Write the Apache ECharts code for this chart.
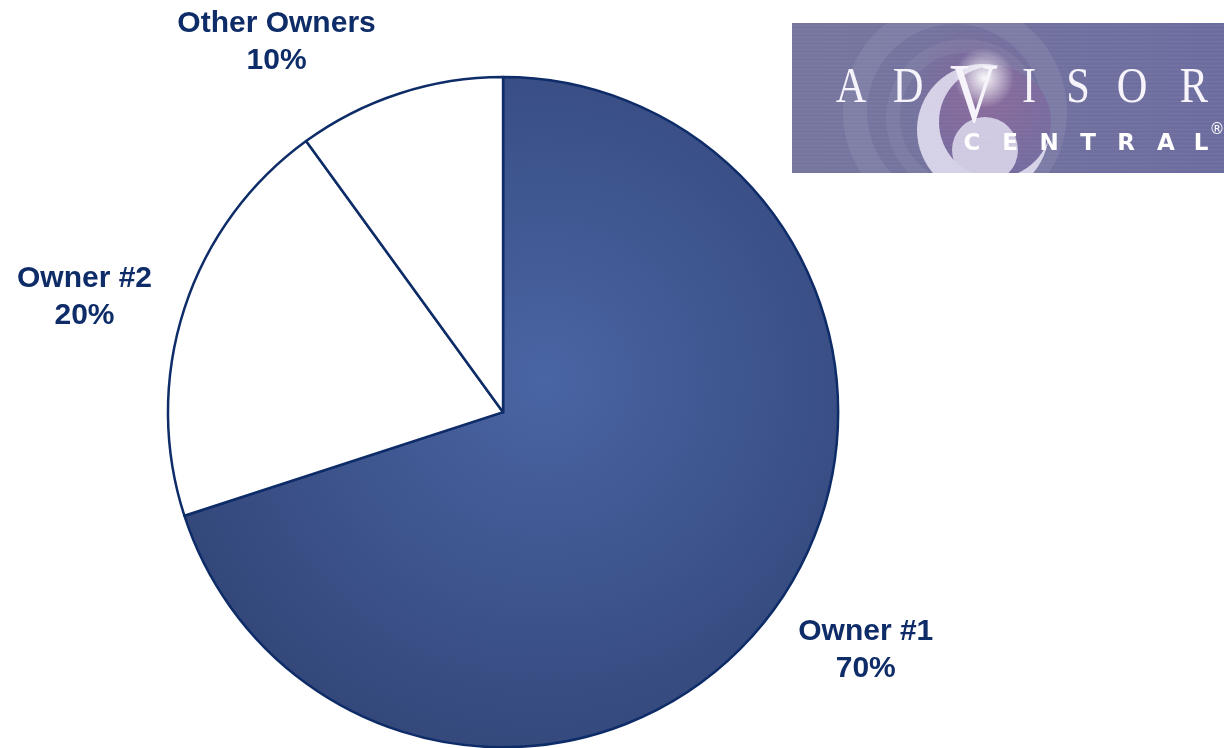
<!DOCTYPE html>
<html>
<head>
<meta charset="utf-8">
<script src="https://cdn.jsdelivr.net/npm/echarts@6/dist/echarts.min.js"></script>
<style>
  html, body { margin: 0; padding: 0; background: #ffffff; }
  #main { width: 1224px; height: 748px; }
</style>
</head>
<body>
<div id="main"></div>
<script>
// chart data
var owners = ['Owner #1', 'Owner #2', 'Other Owners'];
var shares = [70, 20, 10];

// logo lettering
var logoWord = ['A', 'D', 'V', 'I', 'S', 'O', 'R'];
var logoSub = ['C', 'E', 'N', 'T', 'R', 'A', 'L'];

var navy = '#0e2c68';
var pieCenter = ['41.1%', '55.1%'];
var pieRadius = 0.896; // share of min(w, h) / 2

var chart = echarts.init(document.getElementById('main'));

var sliceFills = [
    {
        type: 'radial', x: 0.55, y: 0.45, r: 0.6,
        colorStops: [
            { offset: 0, color: '#4a65a4' },
            { offset: 1, color: '#33477a' }
        ]
    },
    '#ffffff',
    '#ffffff'
];

var pieData = owners.map(function (name, i) {
    return { name: name, value: shares[i], itemStyle: { color: sliceFills[i] } };
});

// place labels the way the original does: on a ring outside the pie,
// slid along the ring when they would leave the top of the canvas
function placeLabel(params) {
    var pts = params.labelLinePoints;
    if (!pts) return {};
    var w = chart.getWidth(), h = chart.getHeight();
    var cx = w * parseFloat(pieCenter[0]) / 100;
    var cy = h * parseFloat(pieCenter[1]) / 100;
    var r = pieRadius * Math.min(w, h) / 2;
    var a = Math.atan2(pts[0][1] - cy, pts[0][0] - cx) - 2.7 * Math.PI / 180;
    var R = r * 1.295;
    var x = cx + Math.cos(a) * R;
    var y = cy + Math.sin(a) * R;
    var minY = params.labelRect.height / 2 + 5;
    if (y < minY) {
        y = minY;
        x = cx + (Math.cos(a) < 0 ? -1 : 1) * Math.sqrt(R * R - (cy - y) * (cy - y));
    }
    return { x: x, y: y, align: 'center', verticalAlign: 'middle' };
}

// logo graphic (top right)
var logo = [];
var lx = 792, ly = 23, lw = 432, lh = 150;
var cutColor = '#766c9f';
logo.push({
    type: 'rect', shape: { x: lx, y: ly, width: lw, height: lh },
    style: {
        fill: { type: 'linear', x: 0, y: 0, x2: 1, y2: 0,
            colorStops: [{ offset: 0, color: '#77769f' }, { offset: 1, color: '#6c6d9f' }] }
    }
});
logo.push({
    type: 'circle', shape: { cx: 975, cy: 88, r: 64 },
    style: { fill: { type: 'radial', x: 0.5, y: 0.5, r: 0.5,
        colorStops: [{ offset: 0, color: 'rgba(140,90,150,0.6)' }, { offset: 1, color: 'rgba(140,90,150,0)' }] } }
});
logo.push({
    type: 'circle', shape: { cx: 955, cy: 112, r: 100 },
    style: { fill: 'none', stroke: 'rgba(255,255,255,0.08)', lineWidth: 24 }
});
logo.push({
    type: 'circle', shape: { cx: 965, cy: 118, r: 72 },
    style: { fill: 'none', stroke: 'rgba(255,255,255,0.06)', lineWidth: 14 }
});
logo.push({
    type: 'circle', shape: { cx: 983, cy: 130, r: 66 },
    style: { fill: 'rgba(224,220,238,0.9)' }
});
logo.push({
    type: 'circle', shape: { cx: 995, cy: 122, r: 56 },
    style: { fill: { type: 'radial', x: 0.4, y: 0.3, r: 0.7,
        colorStops: [{ offset: 0, color: '#8a6b9c' }, { offset: 1, color: cutColor }] } }
});
logo.push({
    type: 'circle', shape: { cx: 985, cy: 150, r: 33 },
    style: { fill: 'rgba(212,208,230,0.95)' }
});
for (var s = 0; s < 37; s++) {
    logo.push({
        type: 'rect', shape: { x: lx, y: ly + 2 + s * 4, width: lw, height: 1 },
        style: { fill: 'rgba(255,255,255,0.05)' }
    });
}
logo.push({
    type: 'circle', shape: { cx: 984, cy: 78, r: 30 },
    style: { fill: { type: 'radial', x: 0.5, y: 0.5, r: 0.5,
        colorStops: [{ offset: 0, color: 'rgba(255,255,255,0.95)' }, { offset: 1, color: 'rgba(255,255,255,0)' }] } }
});
var wordX = [851, 908, 974, 1029, 1078, 1132, 1194];
logoWord.forEach(function (ch, i) {
    var big = ch === 'V';
    logo.push({
        type: 'text', x: wordX[i], y: big ? 100 : 89,
        scaleX: big ? 0.78 : 0.85,
        style: { text: ch, fill: '#f6f4fa',
            font: (big ? 85 : 50) + 'px "Liberation Serif", serif',
            textAlign: 'center', textVerticalAlign: 'middle' }
    });
});
var subX = [972, 1010, 1049, 1088, 1126, 1166, 1201];
logoSub.forEach(function (ch, i) {
    logo.push({
        type: 'text', x: subX[i], y: 144,
        style: { text: ch, fill: '#ffffff', font: 'bold 23px "DejaVu Sans", sans-serif',
            textAlign: 'center', textVerticalAlign: 'middle' }
    });
});
logo.push({
    type: 'text', x: 1217, y: 130,
    style: { text: '\u00AE', fill: '#ffffff', font: '15px "DejaVu Sans", sans-serif',
        textAlign: 'center', textVerticalAlign: 'middle' }
});
// trim the decoration to the logo box
logo.push({ type: 'rect', shape: { x: lx - 40, y: 0, width: lw + 40, height: ly }, style: { fill: '#ffffff' } });
logo.push({ type: 'rect', shape: { x: lx, y: ly + lh, width: lw, height: 40 }, style: { fill: '#ffffff' } });

chart.setOption({
    backgroundColor: '#ffffff',
    animation: false,
    graphic: logo,
    series: [{
        type: 'pie',
        center: pieCenter,
        radius: (pieRadius * 100) + '%',
        startAngle: 90,
        clockwise: true,
        data: pieData,
        itemStyle: { borderColor: navy, borderWidth: 2.5 },
        emphasis: { disabled: true },
        label: {
            show: true,
            position: 'outside',
            formatter: '{b}\n{d}%',
            color: navy,
            fontFamily: '"Liberation Sans", Arial, sans-serif',
            fontWeight: 'bold',
            fontSize: 30,
            lineHeight: 37
        },
        labelLine: { show: true, length: 20, length2: 0, lineStyle: { opacity: 0, width: 0 } },
        labelLayout: placeLabel
    }]
});
</script>
</body>
</html>
